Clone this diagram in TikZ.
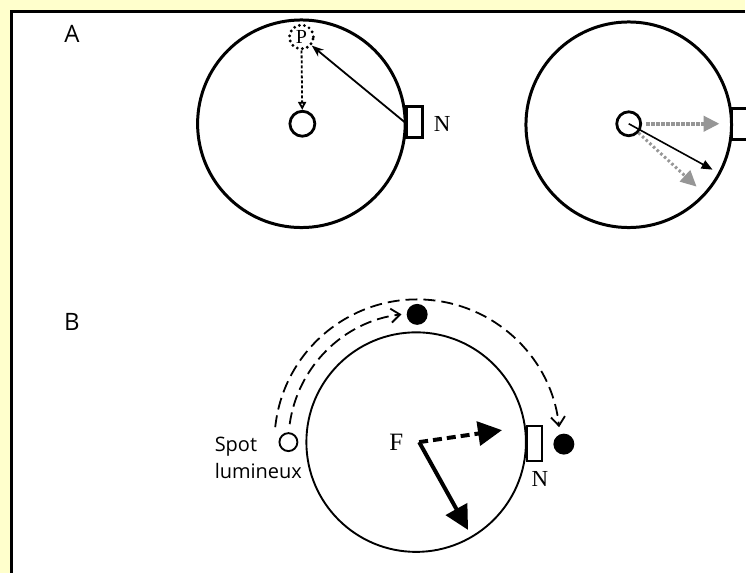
\documentclass[tikz,border=0pt]{standalone}
\usepackage{fontspec}
\setmainfont{Liberation Serif}
\newfontfamily\labelsans{Open Sans}
\usetikzlibrary{arrows.meta}
\definecolor{bgyellow}{RGB}{255,255,204}
\definecolor{arrowgray}{RGB}{150,150,150}
\begin{document}
\begin{tikzpicture}[x=1pt, y=-1pt,
  bigring/.style={circle, draw, inner sep=0pt, minimum size=#1, line width=3pt},
  hub/.style={circle, draw, inner sep=0pt, minimum size=25pt, line width=2.8pt},
  magnet/.style={rectangle, draw, inner sep=0pt, minimum width=16pt, minimum height=31pt, line width=2.8pt},
  serifl/.style={font=\fontsize{23}{26}\selectfont, inner sep=0pt},
  sansl/.style={font=\labelsans\fontsize{24}{28}\selectfont, inner sep=0pt},
  thinarrow/.style={line width=1.8pt, -{Stealth[length=12pt, width=9pt]}},
  grayarrow/.style={arrowgray, line width=4pt, -{Triangle[length=16pt, width=15pt]}},
  fatarrow/.style={line width=4pt, -{Triangle[length=24pt, width=24pt]}},
  dasharc/.style={line width=1.8pt, dash pattern=on 12pt off 6pt, -{Straight Barb[length=9pt, width=14pt]}},
  dot/.style={circle, fill, inner sep=0pt, minimum size=21pt},
]
% background and frame
\fill[bgyellow] (0,0) rectangle (746,574);
\fill[white] (11.5,11.5) rectangle (746,574);
\draw[line width=3pt] (11.5,574) -- (11.5,11.5) -- (746,11.5);
\useasboundingbox (0,0) rectangle (746,574);

% labels A, B
\node[sansl] (labA) at (72,34) {A};
\node[sansl] (labB) at (72,323) {B};

% ---- panel A, left
\node[bigring=208pt] (ringA) at (302,124) {};
\node[hub] (hubA) at (303,124) {};
\node[circle, draw, line width=3.2pt, line cap=round, dash pattern=on 0pt off 5.2pt,
      minimum size=24pt, inner sep=0pt, font=\fontsize{20}{22}\selectfont] (P) at (302,37) {P};
\node[magnet] (magA) at (415,122.5) {};
\node[serifl] (NA) at (443,124) {N};
\draw[densely dashed, line width=1.8pt, -{Triangle[open, length=8pt, width=8pt]}] (P) -- (hubA);
\draw[thinarrow] (magA.west) -- (P.-40);

% ---- panel A, right
\node[bigring=206pt] (ringA2) at (630,125) {};
\node[hub, minimum size=24pt] (hubA2) at (630,124) {};
\node[magnet] (magA2) at (741,124) {};
\coordinate (hA2) at (721,124);
\coordinate (sA2) at (714,170);
\coordinate (gA2) at (698,187);
\draw[grayarrow, densely dotted] ([xshift=4pt]hubA2.east) -- (hA2);
\draw[grayarrow, dash pattern=on 2.5pt off 2.5pt, line width=3pt] (hubA2.-43) -- (gA2);
\draw[line width=1.6pt, -{Triangle[length=11pt, width=9pt]}] (hubA2.center) -- (sA2);

% ---- panel B
\node[circle, draw, line width=1.9pt, minimum size=220pt, inner sep=0pt] (ringB) at (417,443) {};
\node[rectangle, draw, line width=1.9pt, minimum width=15pt, minimum height=35pt, inner sep=0pt] (magB) at (535.5,444.5) {};
\node[serifl] (NB) at (541,480) {N};
\node[dot] (dotR) at (565,445) {};
\node[dot] (dotT) at (418,315) {};
\node[circle, draw, line width=1.9pt, minimum size=18pt, inner sep=0pt] (spot) at (289,443) {};
\node[font=\labelsans\fontsize{20}{27}\selectfont, inner sep=0pt, align=left, anchor=west] (spotlab) at (215,459) {Spot\\lumineux};
\node[font=\fontsize{25}{28}\selectfont, inner sep=0pt] (F) at (397,443) {F};
\coordinate (corner) at (420,443);
\coordinate (dashtip) at (503,431);
\coordinate (solidtip) at (469,531);
\draw[fatarrow, dash pattern=on 9pt off 5pt] (corner) -- (dashtip);
\draw[fatarrow] (corner) -- (solidtip);

\coordinate (arcC) at (418,443);
\draw[dasharc] ([shift={(174:143pt)}]arcC) arc[start angle=174, end angle=6, radius=143pt];
\draw[dasharc] ([shift={(172:129pt)}]arcC) arc[start angle=172, end angle=97, radius=129pt];
\end{tikzpicture}
\end{document}
